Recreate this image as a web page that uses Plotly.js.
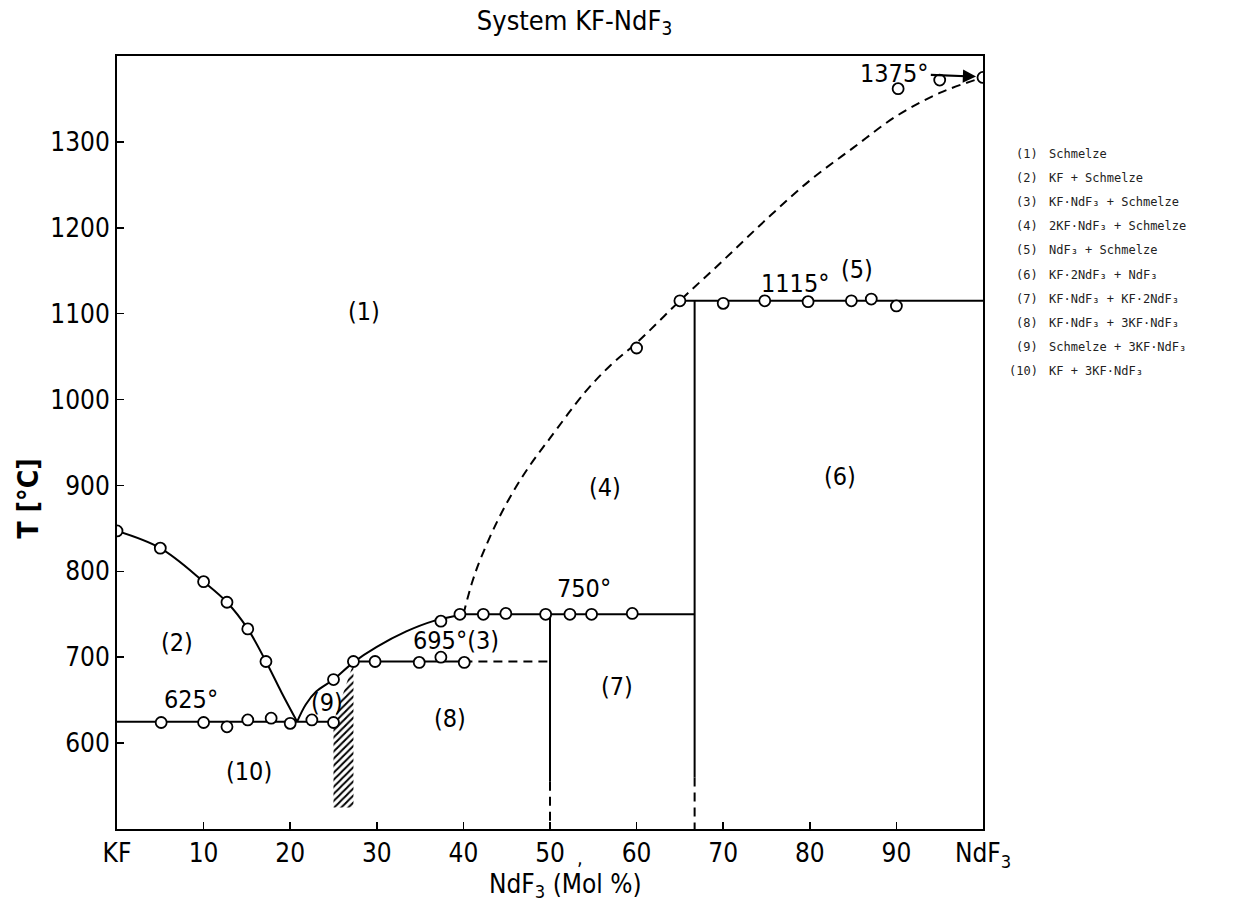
<!DOCTYPE html>
<html>
<head>
<meta charset="utf-8">
<script src="https://cdn.plot.ly/plotly-3.0.1.min.js"></script>
<style>
  html, body { margin: 0; padding: 0; background: #fff; }
  #chart { width: 1249px; height: 913px; }
</style>
</head>
<body>
<div id="chart"></div>
<script>
// Phase diagram KF–NdF3: composition in mol % NdF3, temperature in °C

// Measured thermal-analysis points
const liqKF_x = [0, 5, 10, 12.7, 15.1, 17.2];
const liqKF_T = [847, 827, 788, 764, 733, 695];

const eut_x = [5.1, 10, 12.7, 15.1, 17.8, 20, 22.5, 25];
const eut_T = [624, 624, 619, 627, 629, 623, 627, 624];

const peri_x = [25, 27.3, 37.4];
const peri_T = [674, 695, 742];

const h695_x = [29.8, 34.9, 37.4, 40.1];
const h695_T = [695, 694, 700, 694];

const h750_x = [39.6, 42.3, 44.9, 49.5, 52.3, 54.8, 59.5];
const h750_T = [750, 750, 751, 750, 750, 750, 751];

const h1115_x = [65, 70, 74.8, 79.8, 84.8, 87.1, 90];
const h1115_T = [1115, 1112, 1115, 1114, 1115, 1117, 1109];

const liqNd_x = [60, 90.2, 95, 100];
const liqNd_T = [1060, 1362, 1372, 1375];

// Boundary curves
const curveKF_x = [0, 5, 10, 12.7, 15.1, 17.2, 19, 20.8];
const curveKF_T = [847, 827, 788, 764, 733, 695, 659, 625];

const curvePeri_x = [20.8, 21.8, 23, 25, 27.3, 30, 33.4, 36.5, 40];
const curvePeri_T = [625, 645, 660, 674, 694, 712, 730, 742, 750];

const curveNd_x = [40, 41, 42, 44, 46, 48, 50, 54, 57, 60, 65, 70, 75, 80, 85, 90, 95, 100];
const curveNd_T = [750, 787, 815, 860, 897, 928, 955, 1008, 1040, 1066, 1115, 1162, 1210, 1255, 1293, 1330, 1357, 1375];

// Invariant temperatures and compound compositions
const T_eut = 625, T_peri = 695, T_750 = 750, T_1115 = 1115, T_melt = 1375;
const x_eutEnd = 25, x_periStart = 27.3, x_periEnd = 40;
const x_KFNd = 50, x_KF2Nd = 66.7, T_bottom = 500;
const T_solidEnd50 = 555, T_solidEnd67 = 560;

// Hatched band of the 3KF·NdF3 phase
const hatch_x = [25, 25, 27.3, 27.3];
const hatch_T = [525, 625, 693, 525];

// Axis ticks
const xTickVals = [0, 10, 20, 30, 40, 50, 60, 70, 80, 90, 100];
const xTickText = ['KF', '10', '20', '30', '40', '50', '60', '70', '80', '90', 'NdF<sub>3</sub>'];
const yTickVals = [600, 700, 800, 900, 1000, 1100, 1200, 1300];

// Phase-field labels
const fieldLabels = ['(1)', '(2)', '(4)', '(5)', '(6)', '(7)', '(8)', '(9)', '(10)'];
const fieldX = [28.5, 6.9, 56.4, 85.5, 83.5, 57.7, 38.5, 24.2, 15.2];
const fieldT = [1102, 717, 898, 1151, 910, 666, 629, 647, 567];

const tempLabels = ['625°', '695°(3)', '750°', '1115°'];
const tempX = [8.5, 39.1, 53.9, 78.3];
const tempT = [651, 719, 780, 1135];

// Key to the phase fields
const keyNums = ['(1)', '(2)', '(3)', '(4)', '(5)', '(6)', '(7)', '(8)', '(9)', '(10)'];
const keyText = [
  'Schmelze',
  'KF + Schmelze',
  'KF·NdF₃ + Schmelze',
  '2KF·NdF₃ + Schmelze',
  'NdF₃ + Schmelze',
  'KF·2NdF₃ + NdF₃',
  'KF·NdF₃ + KF·2NdF₃',
  'KF·NdF₃ + 3KF·NdF₃',
  'Schmelze + 3KF·NdF₃',
  'KF + 3KF·NdF₃'
];

const FONT = '"DejaVu Sans Condensed", "DejaVu Sans", sans-serif';
const MONO = '"DejaVu Sans Mono", monospace';
const LW = 2;
const solid = {color: 'black', width: LW};
const dashed = {color: 'black', width: LW, dash: '9px,6px'};

function lineTrace(x, y, line, shape) {
  return {x: x, y: y, mode: 'lines', line: Object.assign({shape: shape || 'linear'}, line),
          hoverinfo: 'skip', showlegend: false};
}
function pointTrace(x, y) {
  return {x: x, y: y, mode: 'markers', hoverinfo: 'x+y', showlegend: false,
          marker: {symbol: 'circle', size: 11, color: 'white', line: {color: 'black', width: 1.8}}};
}

const traces = [
  // hatched 3KF·NdF3 band
  {x: hatch_x, y: hatch_T, mode: 'lines', fill: 'toself', line: {width: 0, color: 'rgba(0,0,0,0)'},
   fillcolor: 'white', fillpattern: {shape: '/', size: 5, solidity: 0.4, fgcolor: 'black', bgcolor: 'white'},
   hoverinfo: 'skip', showlegend: false},
  // liquidus curves
  lineTrace(curveKF_x, curveKF_T, solid, 'spline'),
  lineTrace(curvePeri_x, curvePeri_T, solid, 'spline'),
  lineTrace(curveNd_x, curveNd_T, dashed, 'spline'),
  // invariant horizontals
  lineTrace([0, x_eutEnd], [T_eut, T_eut], solid),
  lineTrace([x_periStart, x_periEnd], [T_peri, T_peri], solid),
  lineTrace([x_periEnd, x_KFNd], [T_peri, T_peri], dashed),
  lineTrace([x_periEnd, x_KF2Nd], [T_750, T_750], solid),
  lineTrace([65, 100], [T_1115, T_1115], solid),
  // compound verticals
  lineTrace([x_KFNd, x_KFNd], [T_750, T_solidEnd50], solid),
  lineTrace([x_KFNd, x_KFNd], [T_solidEnd50, T_bottom], dashed),
  lineTrace([x_KF2Nd, x_KF2Nd], [T_1115, T_solidEnd67], solid),
  lineTrace([x_KF2Nd, x_KF2Nd], [T_solidEnd67, T_bottom], dashed),
  // measured points
  pointTrace(liqKF_x, liqKF_T),
  pointTrace(eut_x, eut_T),
  pointTrace(peri_x, peri_T),
  pointTrace(h695_x, h695_T),
  pointTrace(h750_x, h750_T),
  pointTrace(h1115_x, h1115_T),
  pointTrace(liqNd_x, liqNd_T)
];

const annotations = [];
fieldLabels.forEach((t, i) => annotations.push({
  x: fieldX[i], y: fieldT[i], xref: 'x', yref: 'y', text: t, showarrow: false,
  xanchor: 'center', yanchor: 'middle',
  font: {family: FONT, size: 25, color: 'black'}
}));
tempLabels.forEach((t, i) => annotations.push({
  x: tempX[i], y: tempT[i], xref: 'x', yref: 'y', text: t, showarrow: false,
  xanchor: 'center', yanchor: 'middle',
  font: {family: FONT, size: 25, color: 'black'}
}));
// melting point of NdF3 with arrow
annotations.push({x: 89.7, y: 1380, xref: 'x', yref: 'y', text: T_melt + '°', showarrow: false,
  xanchor: 'center', yanchor: 'middle', font: {family: FONT, size: 25, color: 'black'}});
annotations.push({x: 99.2, y: T_melt + 1, ax: 93.8, ay: T_melt + 3, xref: 'x', yref: 'y',
  axref: 'x', ayref: 'y', text: '', showarrow: true, arrowhead: 2, arrowsize: 1.2,
  arrowwidth: 2.2, arrowcolor: 'black'});
// stray comma printed beside the 50 tick
annotations.push({x: 53.5, y: -0.037, xref: 'x', yref: 'paper', text: ',', showarrow: false,
  xanchor: 'center', yanchor: 'middle', font: {family: FONT, size: 20, color: 'black'}});

// axis titles
annotations.push({x: -0.1025, y: 0.428, xref: 'paper', yref: 'paper', text: 'T [°C]', textangle: -90,
  xanchor: 'center', yanchor: 'middle',
  showarrow: false, font: {family: FONT, size: 28, color: 'black', weight: 'bold'}});
annotations.push({x: 0.518, y: -0.0735, xref: 'paper', yref: 'paper', text: 'NdF<sub>3</sub> (Mol %)',
  xanchor: 'center', yanchor: 'middle',
  showarrow: false, font: {family: FONT, size: 26, color: 'black'}});

// key
const keyTop = 154, keyStep = 24.1, plotTop = 56, plotH = 773;
keyNums.forEach((n, i) => {
  const py = keyTop + i * keyStep;
  const yp = 1 - (py - plotTop) / plotH;
  annotations.push({x: (1040 - 117) / 866, y: yp, xref: 'paper', yref: 'paper', xanchor: 'right',
    yanchor: 'middle', text: n, showarrow: false, font: {family: MONO, size: 12, color: '#222'}});
  annotations.push({x: (1047 - 117) / 866, y: yp, xref: 'paper', yref: 'paper', xanchor: 'left',
    yanchor: 'middle', text: keyText[i], showarrow: false,
    font: {family: MONO, size: 12, color: '#222'}});
});

const axisCommon = {
  showline: true, mirror: true, linewidth: 2, linecolor: 'black',
  ticks: 'inside', ticklen: 7, tickwidth: 1.6, tickcolor: 'black',
  showgrid: false, zeroline: false, fixedrange: true,
  tickfont: {family: FONT, size: 26, color: 'black'}
};

const layout = {
  width: 1249, height: 913,
  margin: {l: 117, r: 266, t: 56, b: 84, pad: 0},
  paper_bgcolor: 'white', plot_bgcolor: 'white',
  showlegend: false,
  title: {text: 'System KF-NdF<sub>3</sub>', x: 0.46, xanchor: 'center', y: 0.978, yanchor: 'middle',
          font: {family: FONT, size: 27, color: 'black'}},
  xaxis: Object.assign({}, axisCommon, {range: [0, 100], tickmode: 'array', tickvals: xTickVals, ticktext: xTickText}),
  yaxis: Object.assign({}, axisCommon, {range: [500, 1400], tickmode: 'array', tickvals: yTickVals}),
  annotations: annotations
};

Plotly.newPlot('chart', traces, layout, {displayModeBar: false, staticPlot: true});
</script>
</body>
</html>
